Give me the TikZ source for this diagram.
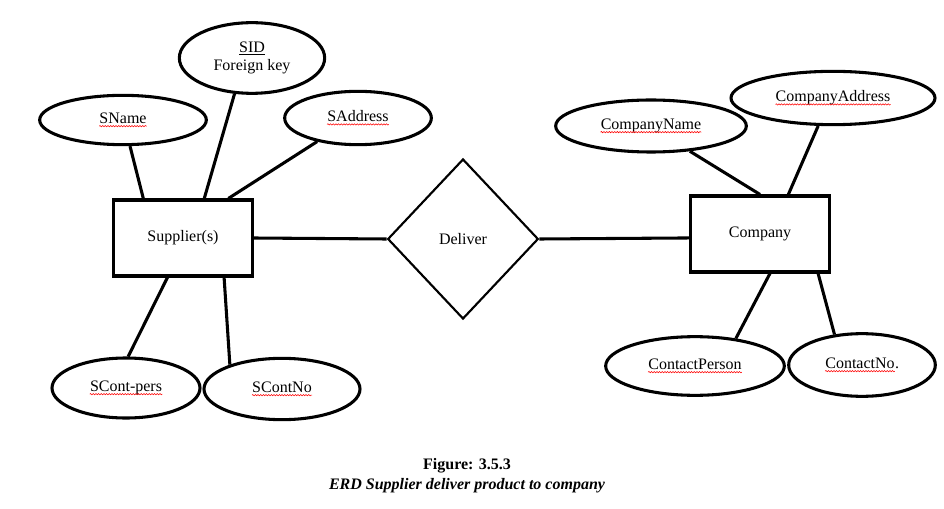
\documentclass[tikz,border=0pt]{standalone}
\usepackage{fontspec}
\setmainfont{Liberation Serif}
\usepackage{tikz}
\usetikzlibrary{
  positioning,
  calc,
  shapes.geometric,
  decorations.pathmorphing
}
\newcommand\wavy[1]{\tikz[baseline=(w.base)]{\node[rectangle, inner sep=0pt, minimum width=0pt, minimum height=0pt, draw=none] (w) {#1};
  \draw[red, line width=0.4pt, decorate, decoration={snake, amplitude=0.5pt, segment length=2pt}]
    ([yshift=-2pt]w.base west) -- ([yshift=-2pt]w.base east);}}
\tikzstyle{attr}=[ellipse, draw, line width=2.3pt, inner sep=0pt, font=\fontsize{12}{14}\selectfont]
\tikzstyle{entity}=[rectangle, draw, line width=2.3pt, minimum width=104pt, minimum height=57pt, font=\fontsize{12}{14}\selectfont]
\tikzstyle{rel}=[diamond, draw, line width=1.6pt, inner sep=0pt, minimum width=113pt, minimum height=120pt, aspect=0.94, font=\fontsize{12}{14}\selectfont]
\tikzstyle{link}=[line width=2.3pt]

\begin{document}
\begin{tikzpicture}[x=0.75pt, y=-0.75pt]
    \useasboundingbox (0,0) rectangle (944,509);

    % エンティティ
    \node[entity] (sup) at (183,238) {Supplier(s)};
    \node[entity] (comp) at (760,234) {Company};

    % リレーションシップ
    \node[rel] (del) at (463,239) {Deliver};

    % 供給者の属性
    \node[attr, minimum width=109pt, minimum height=53pt, align=center] (sid) at (252,58) {\underline{SID}\\Foreign key};
    \node[attr, minimum width=125pt, minimum height=37pt] (sname) at (123,120) {\wavy{SName}};
    \node[attr, minimum width=110pt, minimum height=40pt] (saddr) at (358,118) {\wavy{SAddress}};
    \node[attr, minimum width=111pt, minimum height=45pt] (spers) at (126,388) {\wavy{SCont-pers}};
    \node[attr, minimum width=117pt, minimum height=46pt] (sno) at (282,389) {\wavy{SContNo}};

    % 会社の属性
    \node[attr, minimum width=143pt, minimum height=39pt] (cname) at (651,126) {\wavy{CompanyName}};
    \node[attr, minimum width=153pt, minimum height=40pt] (caddr) at (833,98) {\wavy{CompanyAddress}};
    \node[attr, minimum width=134pt, minimum height=44pt] (cpers) at (695,366) {\wavy{ContactPerson}};
    \node[attr, minimum width=110pt, minimum height=47pt] (cno) at (862,365) {\wavy{ContactNo}.};

    % 関係の線
    \draw[link] (sup.east) -- (del.west);
    \draw[link] (del.east) -- ($(comp.north west)!0.55!(comp.south west)$);

    % 供給者と属性の線
    \draw[link] (sname.-75) -- ($(sup.north west)!0.22!(sup.north east)$);
    \draw[link] (sid.-116) -- ($(sup.north west)!0.65!(sup.north east)$);
    \draw[link] (saddr.-150) -- ($(sup.north west)!0.82!(sup.north east)$);
    \draw[link] ($(sup.south west)!0.39!(sup.south east)$) -- (spers.86);
    \draw[link] ($(sup.south west)!0.79!(sup.south east)$) -- (sno.155);

    % 会社と属性の線
    \draw[link] (cname.-33) -- ($(comp.north west)!0.5!(comp.north east)$);
    \draw[link] (caddr.-118) -- ($(comp.north west)!0.7!(comp.north east)$);
    \draw[link] ($(comp.south west)!0.57!(comp.south east)$) -- (cpers.34);
    \draw[link] ($(comp.south west)!0.91!(comp.south east)$) -- (cno.132);

    % 図のキャプション
    \node[font=\fontsize{12}{14}\selectfont\bfseries] (fig) at (467,466) {Figure: 3.5.3};
    \node[font=\fontsize{12}{14}\selectfont\bfseries\itshape] (cap) at (467,486) {ERD Supplier deliver product to company};
\end{tikzpicture}
\end{document}
